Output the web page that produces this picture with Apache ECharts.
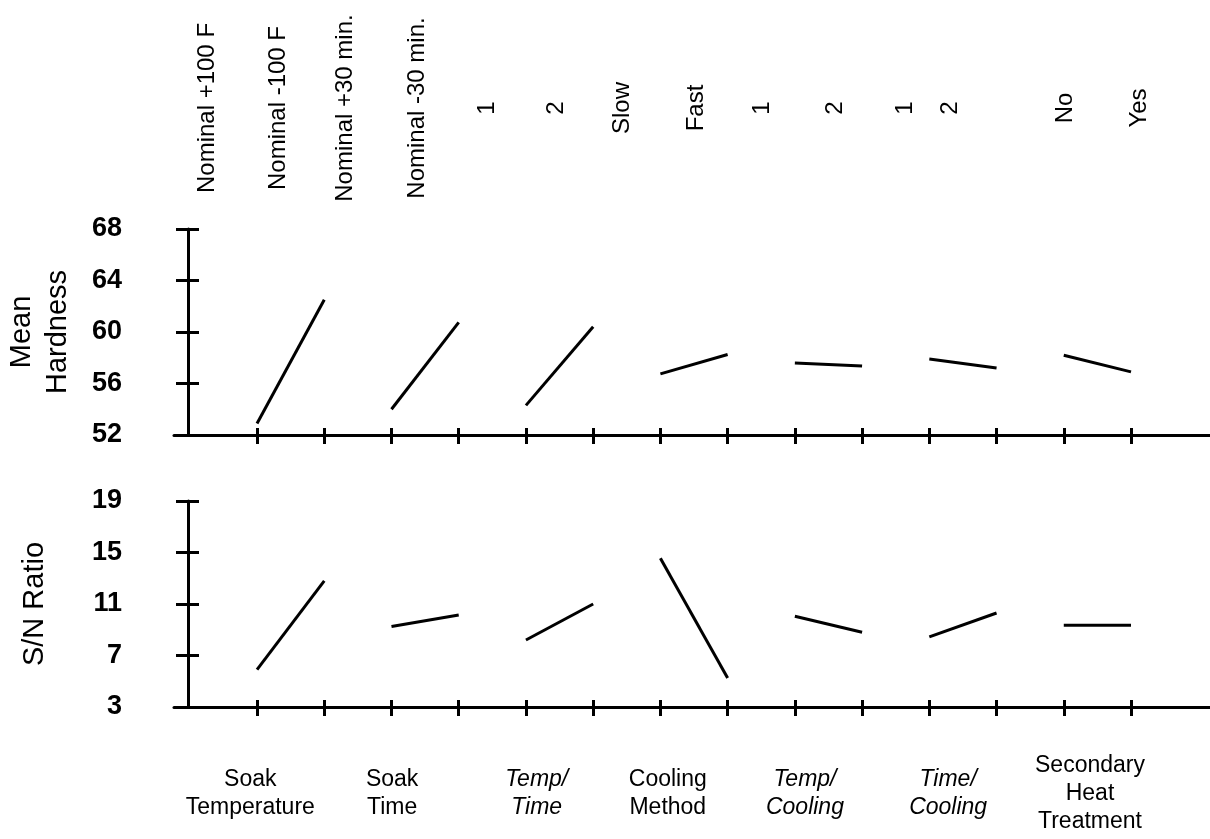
<!DOCTYPE html>
<html>
<head>
<meta charset="utf-8">
<script src="https://cdn.jsdelivr.net/npm/echarts@6/dist/echarts.min.js"></script>
<style>
  html, body { margin: 0; padding: 0; background: #fff; }
  #chart { width: 1210px; height: 839px; }
</style>
</head>
<body>
<div id="chart"></div>
<script>
// ---- data ----
const levels = ['Nominal +100 F', 'Nominal -100 F', 'Nominal +30 min.', 'Nominal -30 min.',
  '1', '2', 'Slow', 'Fast', '1', '2', '1', '2', 'No', 'Yes'];
const factors = ['Soak\nTemperature', 'Soak\nTime', 'Temp/\nTime', 'Cooling\nMethod',
  'Temp/\nCooling', 'Time/\nCooling', 'Secondary\nHeat\nTreatment'];
const italicFactors = [false, false, true, false, true, true, false];
const meanHardness = [52.9, 62.5, 54.0, 60.75, 54.3, 60.4, 56.75, 58.25, 57.6, 57.35, 57.9, 57.2, 58.2, 56.9];
const snRatio = [5.9, 12.8, 9.25, 10.15, 8.2, 11.0, 14.55, 5.25, 10.05, 8.8, 8.45, 10.3, 9.35, 9.35];
const hardnessTicks = [52, 56, 60, 64, 68];
const snTicks = [3, 7, 11, 15, 19];

// ---- layout (label anchor positions along the x scale) ----
const levelLabelPos = [0.26, 1.32, 2.32, 3.38, 4.42, 5.46, 6.44, 7.53, 8.51, 9.61, 10.64, 11.31, 13.02, 14.12];
const factorLabelPos = [0.9, 3.01, 5.16, 7.11, 9.15, 11.28, 13.39];

const levelX = levels.map((_, i) => i + 1);
const XMIN = -0.235, XMAX = 15.175;
const FONT = 'Liberation Sans, Arial, sans-serif';

function nearestIndex(arr, v) {
  let best = 0, d = Infinity;
  arr.forEach((a, i) => { const dd = Math.abs(a - v); if (dd < d) { d = dd; best = i; } });
  return best;
}

function baseX(grid, extra) {
  return Object.assign({
    type: 'value', gridIndex: grid, min: XMIN, max: XMAX, position: 'bottom',
    splitLine: { show: false },
    axisLine: { onZero: false, lineStyle: { color: '#000', width: 3 } },
    axisTick: { customValues: levelX, length: 9, lineStyle: { color: '#000', width: 3 } },
    axisLabel: { show: false }
  }, extra);
}
function innerX(grid) {
  return {
    type: 'value', gridIndex: grid, min: XMIN, max: XMAX, position: 'bottom',
    splitLine: { show: false },
    axisLine: { show: false, onZero: false },
    axisTick: { show: true, inside: true, customValues: levelX, length: 7, lineStyle: { color: '#000', width: 3 } },
    axisLabel: { show: false }
  };
}
function baseY(grid, ticks, name, nameGap) {
  const step = ticks[1] - ticks[0];
  return {
    type: 'value', gridIndex: grid, position: 'left', offset: -14,
    min: ticks[0], max: ticks[ticks.length - 1], interval: step,
    splitLine: { show: false },
    axisLine: { onZero: false, lineStyle: { color: '#000', width: 3 } },
    axisTick: { length: 12, lineStyle: { color: '#000', width: 3 } },
    axisLabel: { margin: 66, color: '#000', fontSize: 27, fontWeight: 'bold', fontFamily: FONT },
    name: name, nameLocation: 'middle', nameRotate: 90, nameGap: nameGap,
    nameTextStyle: { color: '#000', fontSize: 29, lineHeight: 36, fontFamily: FONT, align: 'center', verticalAlign: 'middle' }
  };
}
function innerY(grid, ticks) {
  const step = ticks[1] - ticks[0];
  return {
    type: 'value', gridIndex: grid, position: 'left', offset: -14,
    min: ticks[0], max: ticks[ticks.length - 1], interval: step,
    splitLine: { show: false },
    axisLine: { show: false, onZero: false },
    axisTick: { show: true, inside: true, length: 11, lineStyle: { color: '#000', width: 3 } },
    axisLabel: { show: false }
  };
}

const xAxes = [
  baseX(0),
  innerX(0),
  {
    type: 'value', gridIndex: 0, min: XMIN, max: XMAX, position: 'top',
    splitLine: { show: false }, axisLine: { show: false, onZero: false }, axisTick: { show: false },
    axisLabel: {
      customValues: levelLabelPos, rotate: -90, margin: 121, align: 'center', verticalAlign: 'middle',
      color: '#000', fontSize: 24, fontFamily: FONT,
      formatter: v => levels[nearestIndex(levelLabelPos, v)]
    }
  },
  baseX(1, {
    axisLabel: {
      show: true, customValues: factorLabelPos, margin: 87, verticalAlign: 'middle', align: 'center',
      formatter: v => {
        const i = nearestIndex(factorLabelPos, v);
        const tag = italicFactors[i] ? 'i' : 'n';
        return factors[i].split('\n').map(s => '{' + tag + '|' + s + '}').join('\n');
      },
      rich: {
        n: { color: '#000', fontSize: 23, lineHeight: 28, fontFamily: FONT },
        i: { color: '#000', fontSize: 23, lineHeight: 28, fontFamily: FONT, fontStyle: 'italic' }
      }
    }
  }),
  innerX(1)
];

const yAxes = [
  baseY(0, hardnessTicks, 'Mean\nHardness', 148),
  innerY(0, hardnessTicks),
  baseY(1, snTicks, 'S/N Ratio', 153),
  innerY(1, snTicks)
];

const series = [];
factors.forEach((f, k) => {
  const a = 2 * k, b = 2 * k + 1;
  series.push({
    type: 'line', xAxisIndex: 0, yAxisIndex: 0, showSymbol: false, silent: true,
    lineStyle: { color: '#000', width: 3 },
    data: [[levelX[a], meanHardness[a]], [levelX[b], meanHardness[b]]]
  });
  series.push({
    type: 'line', xAxisIndex: 3, yAxisIndex: 2, showSymbol: false, silent: true,
    lineStyle: { color: '#000', width: 3 },
    data: [[levelX[a], snRatio[a]], [levelX[b], snRatio[b]]]
  });
});

const chart = echarts.init(document.getElementById('chart'), null, { renderer: 'canvas' });
chart.setOption({
  backgroundColor: '#fff',
  animation: false,
  grid: [
    { left: 174, right: 0, top: 229, height: 206, outerBoundsMode: 'none', containLabel: false },
    { left: 174, right: 0, top: 501, height: 206, outerBoundsMode: 'none', containLabel: false }
  ],
  xAxis: xAxes,
  yAxis: yAxes,
  series: series
});
</script>
</body>
</html>
